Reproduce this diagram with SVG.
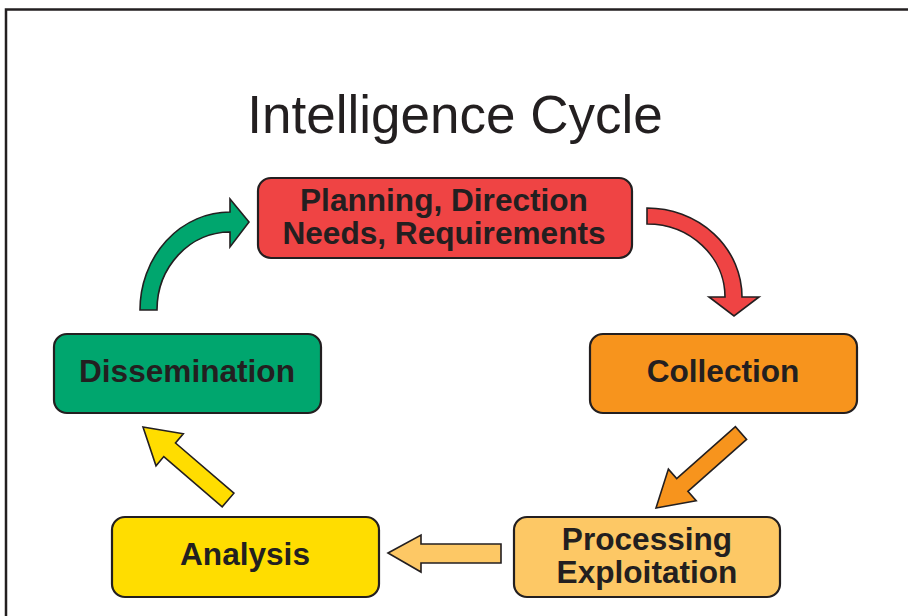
<svg xmlns="http://www.w3.org/2000/svg" width="908" height="616" viewBox="0 0 908 616">
<style>
.box{stroke:#231F20;stroke-width:2.2}
.arr{stroke:#231F20;stroke-width:1.6;stroke-linejoin:miter}
.lbl{font-family:"Liberation Sans",Arial,sans-serif;font-weight:bold;font-size:31.6px;fill:#231F20;text-anchor:middle}
.title{font-family:"Liberation Sans",Arial,sans-serif;font-size:53px;fill:#231F20;text-anchor:middle}
</style>
<rect x="0" y="0" width="908" height="616" fill="#ffffff"/>
<path d="M6 616 V9.5 H908" fill="none" stroke="#231F20" stroke-width="2.5"/>
<text class="title" x="455" y="133">Intelligence Cycle</text>
<g id="connectors">
<path class="arr" fill="#00A66E" d="M140 310 A90 98 0 0 1 230 212 V199 L249 222 L230 247 V232 A73 78 0 0 0 157 310 Z"/>
<path class="arr" fill="#EF4444" d="M647 208 A95 89 0 0 1 742 297 H759 L734 316 L709 297 H725 A78 73 0 0 0 647 224 Z"/>
<path class="arr" fill="#F7941D" d="M656 508 L668.4 469.1 L676.7 478.5 L735.4 426.6 L746.6 439.4 L687.9 491.3 L696.2 500.7 Z"/>
<path class="arr" fill="#FDC865" d="M388 553 L421 535 V544 H501 V563 H421 V572 Z"/>
<path class="arr" fill="#FFDD00" d="M143 427 L183.3 433.8 L175.5 443 L233.9 493.2 L222.2 506.8 L163.8 456.6 L156 465.8 Z"/>
</g>
<g id="planning">
<rect class="box" x="258" y="178" width="374" height="80" rx="13" fill="#EF4444"/>
<text class="lbl" x="444" y="211">Planning, Direction</text>
<text class="lbl" x="444" y="244">Needs, Requirements</text>
</g>
<g id="collection">
<rect class="box" x="590" y="334" width="267" height="79" rx="13" fill="#F7941D"/>
<text class="lbl" x="723" y="382">Collection</text>
</g>
<g id="processing">
<rect class="box" x="514" y="517" width="266" height="80" rx="13" fill="#FDC865"/>
<text class="lbl" x="647" y="550">Processing</text>
<text class="lbl" x="647" y="583">Exploitation</text>
</g>
<g id="analysis">
<rect class="box" x="112" y="517" width="267" height="80" rx="13" fill="#FFDD00"/>
<text class="lbl" x="245" y="565">Analysis</text>
</g>
<g id="dissemination">
<rect class="box" x="54" y="334" width="267" height="79" rx="13" fill="#00A66E"/>
<text class="lbl" x="187" y="382">Dissemination</text>
</g>
</svg>
